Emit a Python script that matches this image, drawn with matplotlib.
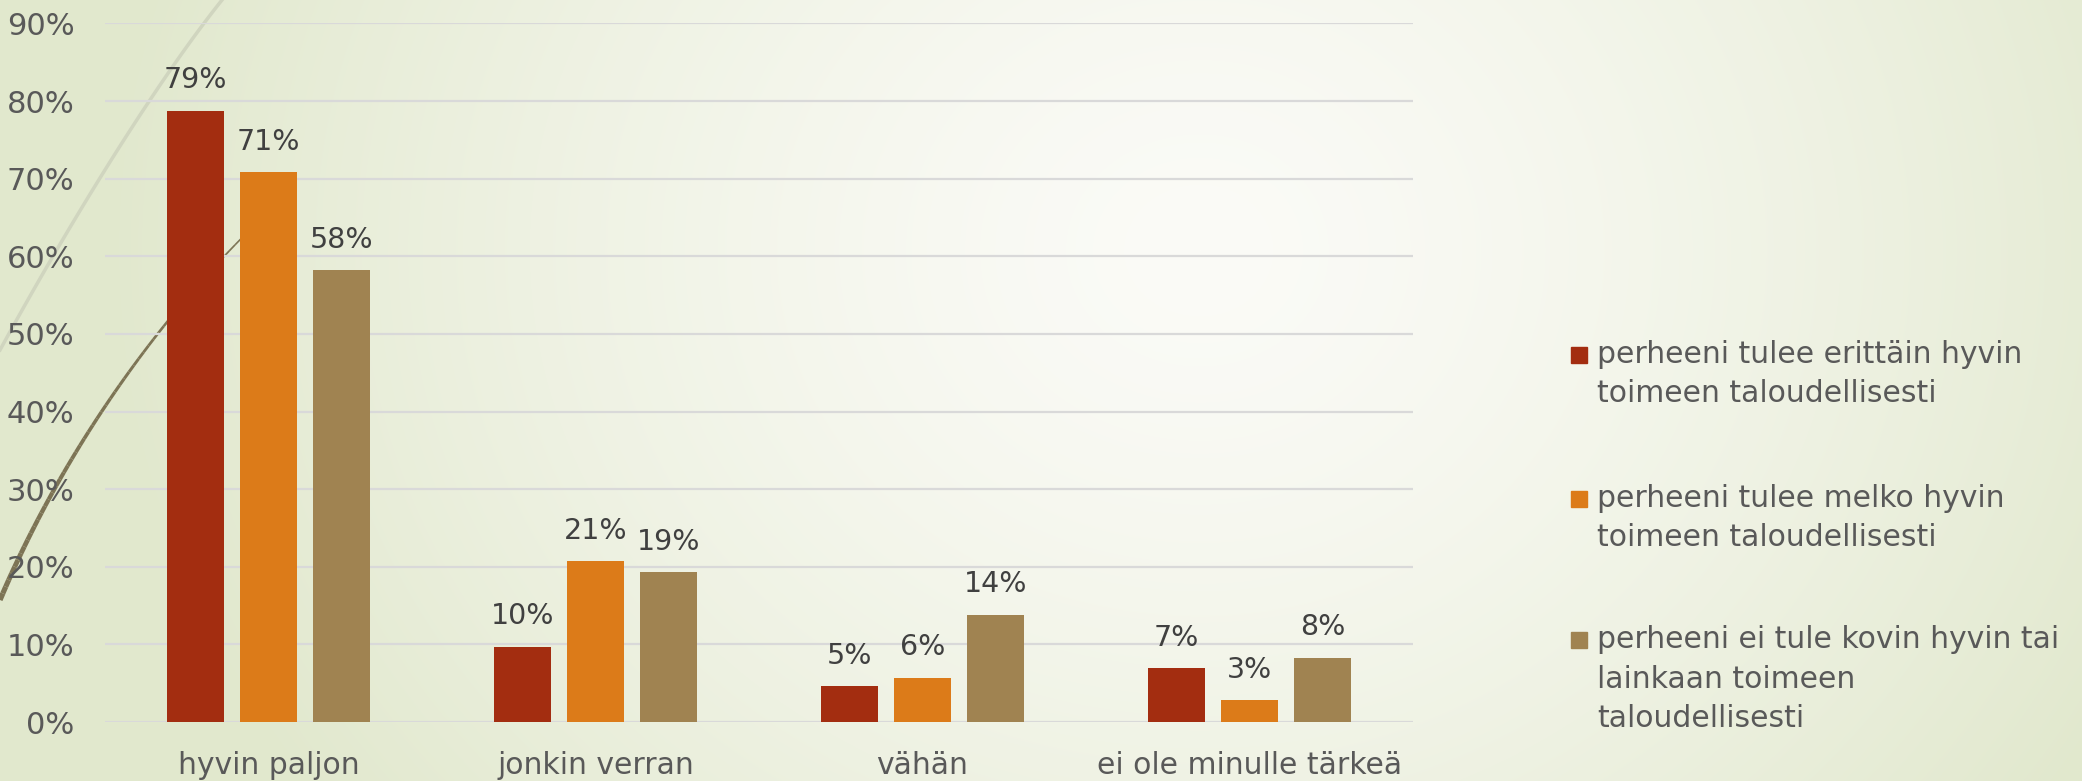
import numpy as np
import matplotlib
matplotlib.use("Agg")
from matplotlib import pyplot as plt
from matplotlib.collections import LineCollection

# data
categories = ['hyvin paljon', 'jonkin verran', 'vähän', 'ei ole minulle tärkeä']
series_names = ['perheeni tulee erittäin hyvin\ntoimeen taloudellisesti',
                'perheeni tulee melko hyvin\ntoimeen taloudellisesti',
                'perheeni ei tule kovin hyvin tai\nlainkaan toimeen\ntaloudellisesti']
very_well = [0.787, 0.097, 0.046, 0.069]
quite_well = [0.708, 0.207, 0.057, 0.028]
not_well = [0.582, 0.193, 0.138, 0.083]
yticks = [0, 0.1, 0.2, 0.3, 0.4, 0.5, 0.6, 0.7, 0.8, 0.9]

colors = ['#a32d10', '#dc7b19', '#a08351']
W, H = 2082, 781

fig = plt.figure(figsize=(W / 100, H / 100), dpi=100)

# background: light green edges, near white in the middle
bg = fig.add_axes([0, 0, 1, 1], zorder=0)
yy, xx = np.mgrid[0:H, 0:W]
rx = np.where(xx < 1200, 1100.0, 1050.0)
t = np.sqrt(((xx - 1200) / rx) ** 2 + ((yy - 250) / 950.0) ** 2)
t = np.clip(t, 0, 1) ** 1.4
white = np.array([251, 251, 247]) / 255.0
green = np.array([225, 232, 205]) / 255.0
img = white[None, None, :] * (1 - t[..., None]) + green[None, None, :] * t[..., None]
bg.imshow(img, extent=[0, W, H, 0], aspect='auto')
bg.set_xlim(0, W)
bg.set_ylim(H, 0)
bg.axis('off')


def bezier(p0, p1, p2, p3, n=60):
    s = np.linspace(0, 1, n)[:, None]
    p0, p1, p2, p3 = map(np.array, (p0, p1, p2, p3))
    return (1 - s) ** 3 * p0 + 3 * (1 - s) ** 2 * s * p1 + 3 * (1 - s) * s ** 2 * p2 + s ** 3 * p3


# decorative theme curves
light = bezier((0, 350), (60, 240), (150, 90), (222, 0))
bg.plot(light[:, 0], light[:, 1], color='#d0d5bf', lw=2.5)
dark = bezier((0, 600), (55, 470), (145, 330), (265, 215))
segs = np.stack([dark[:-1], dark[1:]], axis=1)
bg.add_collection(LineCollection(segs, colors='#7d7455', linewidths=np.linspace(3.8, 1.0, len(segs))))

# bar chart
ax = fig.add_axes([105 / W, 1 - 722 / H, (1413 - 105) / W, (722 - 23.4) / H], zorder=1)
ax.patch.set_alpha(0)
x = np.arange(len(categories))
width = 0.174
step = 0.223
for i, vals in enumerate([very_well, quite_well, not_well]):
    bars = ax.bar(x + (i - 1) * step, vals, width, color=colors[i], zorder=3)
    for b, v in zip(bars, vals):
        ax.annotate('%d%%' % round(v * 100), (b.get_x() + b.get_width() / 2, v),
                    xytext=(0, 12), textcoords='offset points', ha='center', va='bottom',
                    fontsize=20.5, color='#404040')

ax.set_xlim(-0.5, len(categories) - 0.5)
ax.set_ylim(0, 0.9)
ax.set_yticks(yticks)
ax.set_yticklabels(['%d%%' % round(v * 100) for v in yticks])
ax.set_xticks(x)
ax.set_xticklabels(categories)
ax.tick_params(axis='y', length=0, pad=22, labelsize=22, labelcolor='#595959')
ax.tick_params(axis='x', length=0, pad=21, labelsize=21.5, labelcolor='#595959')
ax.grid(axis='y', color='#d9d9d9', lw=1.6, zorder=0)
for s in ax.spines.values():
    s.set_visible(False)

# legend drawn by hand, marker beside the first line
baselines = [363, 507, 648]
for name, c, yb in zip(series_names, colors, baselines):
    fig.patches.append(plt.Rectangle((1571 / W, 1 - yb / H), 16 / W, 16 / H,
                                     transform=fig.transFigure, color=c, zorder=5))
    for k, line in enumerate(name.split('\n')):
        fig.text(1597 / W, 1 - (yb + k * 39.5) / H, line, fontsize=21.5, color='#595959',
                 va='baseline', ha='left', zorder=5)

fig.savefig('out.png', dpi=100)
